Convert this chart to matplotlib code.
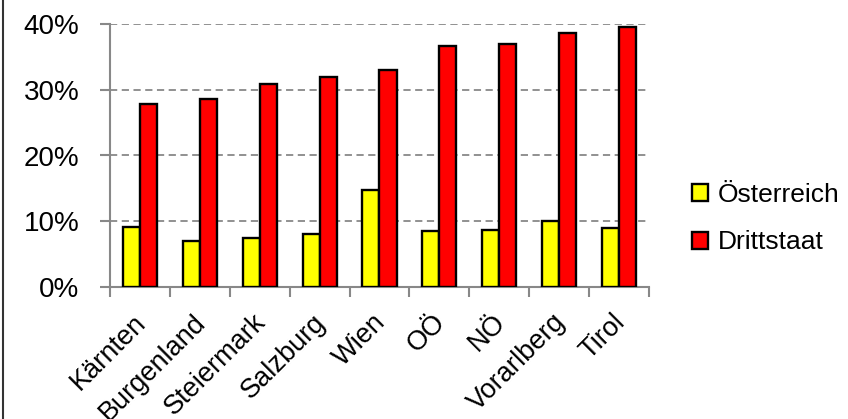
import numpy as np
import matplotlib
matplotlib.use('Agg')
import matplotlib.pyplot as plt
from matplotlib.lines import Line2D
from matplotlib.transforms import ScaledTranslation
from matplotlib.ticker import PercentFormatter, FixedLocator

plt.rcParams['font.family'] = ['Liberation Sans', 'DejaVu Sans']

# Daten
laender = ['Kärnten', 'Burgenland', 'Steiermark', 'Salzburg', 'Wien', 'OÖ', 'NÖ', 'Vorarlberg', 'Tirol']
oesterreich = [9.2, 7.0, 7.4, 8.0, 14.7, 8.5, 8.7, 10.1, 8.9]
drittstaat = [27.9, 28.6, 30.9, 32.0, 33.0, 36.7, 36.9, 38.7, 39.6]

fig = plt.figure(figsize=(8.48, 4.19), dpi=100)
ax = fig.add_axes([110/848, 1 - 287/419, (649-110)/848, (287-24)/419])

x = np.arange(len(laender))
w = 0.285
ax.bar(x - w/2, oesterreich, w, color='#ffff00', edgecolor='black', linewidth=1.7, label='Österreich', zorder=3)
ax.bar(x + w/2, drittstaat, w, color='#ff0000', edgecolor='black', linewidth=1.7, label='Drittstaat', zorder=3)

ax.set_xlim(-0.5, len(laender) - 0.5)
ax.set_ylim(0, 40)
ax.set_yticks([0, 10, 20, 30, 40])
ax.yaxis.set_major_formatter(PercentFormatter(decimals=0))
ax.yaxis.grid(True, linestyle=(0, (4, 2.5)), color='#888888', linewidth=1.3, zorder=0)

for s in ['top', 'right']:
    ax.spines[s].set_visible(False)
for s in ['left', 'bottom']:
    ax.spines[s].set_color('#888888')
    ax.spines[s].set_linewidth(1.5)

ax.tick_params(axis='y', direction='out', length=7, width=1.5, color='#888888', labelsize=20, pad=15)
ax.set_xticks(x)
ax.set_xticklabels(laender, rotation=45, ha='right', va='top', rotation_mode='anchor', fontsize=19.5)
ax.tick_params(axis='x', which='major', length=0, pad=16)
ax.xaxis.set_minor_locator(FixedLocator(np.arange(-0.5, len(laender), 1.0)))
ax.tick_params(axis='x', which='minor', direction='out', length=7, width=1.5, color='#888888')

# Beschriftungen etwas nach links schieben
offset = ScaledTranslation(-7/100, 0, fig.dpi_scale_trans)
for lbl in ax.get_xticklabels():
    lbl.set_transform(lbl.get_transform() + offset)

ax.legend(loc='center left', bbox_to_anchor=(692/848, 1 - 218.5/419), bbox_transform=fig.transFigure,
          frameon=False, fontsize=19, handlelength=0.62, handleheight=0.62, handletextpad=0.35,
          labelspacing=0.9, borderpad=0, borderaxespad=0)

# linker Rahmen
fig.add_artist(Line2D([3/848, 3/848], [0, 1], transform=fig.transFigure, color='#333333', linewidth=1.5))

fig.savefig('out.png', dpi=100)
